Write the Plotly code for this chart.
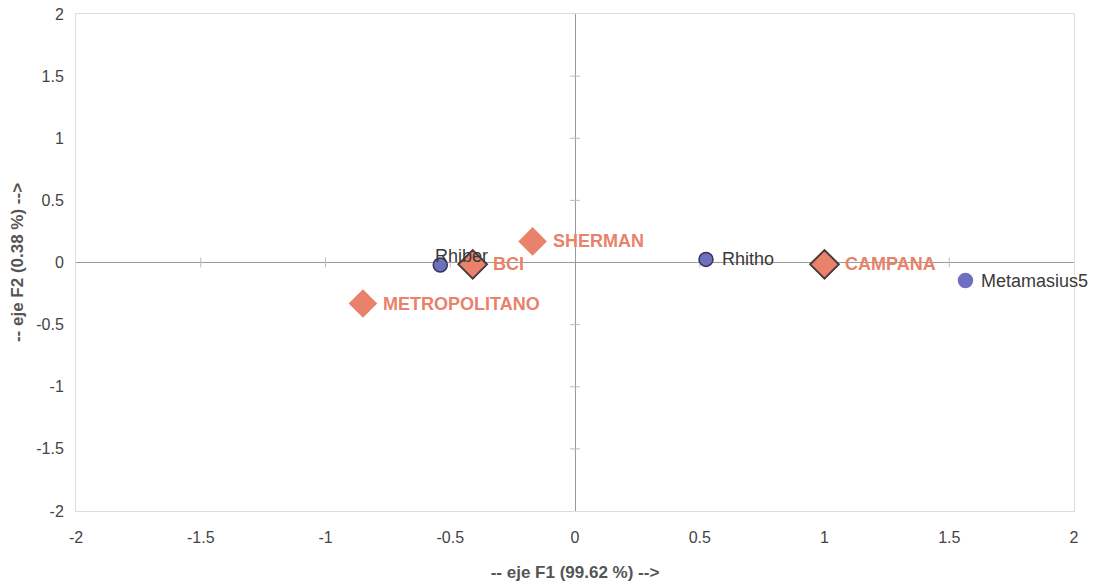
import plotly.graph_objects as go

species_names = ["Rhiber", "Rhitho", "Metamasius5"]
species_f1 = [-0.54, 0.525, 1.565]
species_f2 = [-0.02, 0.025, -0.145]

site_names = ["BCI", "SHERMAN", "METROPOLITANO", "CAMPANA"]
site_f1 = [-0.41, -0.17, -0.85, 1.0]
site_f2 = [-0.015, 0.17, -0.33, -0.015]
site_outlined = [True, False, False, True]

tick_vals = [-2, -1.5, -1, -0.5, 0, 0.5, 1, 1.5, 2]
tick_text = ["-2", "-1.5", "-1", "-0.5", "0", "0.5", "1", "1.5", "2"]

axis_color = "#9a9a9a"
orange = "#E8826A"
blue = "#6F6FBF"
font_fam = "Liberation Sans, Arial"

fig = go.Figure()

inner_ticks = [t for t in tick_vals if t not in (0, -2, 2)]
# small tick marks on the zero axes
fig.add_trace(go.Scatter(
    x=inner_ticks, y=[0] * len(inner_ticks),
    mode="markers", marker=dict(symbol="line-ns-open", size=7, color="#bbbbbb",
                                line=dict(color="#bbbbbb", width=1)),
    hoverinfo="skip", showlegend=False))
fig.add_trace(go.Scatter(
    x=[0] * len(inner_ticks), y=inner_ticks,
    mode="markers", marker=dict(symbol="line-ew-open", size=7, color="#bbbbbb",
                                line=dict(color="#bbbbbb", width=1)),
    hoverinfo="skip", showlegend=False))

# species (blue circles)
sp_outline = ["#333355", "#333355", blue]
fig.add_trace(go.Scatter(
    x=species_f1, y=species_f2, mode="markers",
    marker=dict(symbol="circle", size=14, color=blue,
                line=dict(color=sp_outline, width=1.5)),
    cliponaxis=False, showlegend=False))
for name, x, y in zip(species_names, species_f1, species_f2):
    if name == "Rhiber":
        fig.add_annotation(x=x, y=y, text=name, showarrow=False, xanchor="left",
                           yanchor="middle", xshift=-7, yshift=9,
                           font=dict(family=font_fam, size=18, color="#3a3a3a"))
    else:
        fig.add_annotation(x=x, y=y, text=name, showarrow=False, xanchor="left",
                           yanchor="middle", xshift=14, yshift=0,
                           font=dict(family=font_fam, size=18, color="#3a3a3a"))

# sites (orange diamonds)
fig.add_trace(go.Scatter(
    x=site_f1, y=site_f2, mode="markers",
    marker=dict(symbol="diamond", size=22, color=orange,
                line=dict(color=["#4a3a3a" if o else orange for o in site_outlined],
                          width=[2 if o else 0 for o in site_outlined])),
    cliponaxis=False, showlegend=False))
for name, x, y in zip(site_names, site_f1, site_f2):
    fig.add_annotation(x=x, y=y, text="<b>" + name + "</b>", showarrow=False,
                       xanchor="left", yanchor="middle", xshift=18, yshift=0,
                       font=dict(family=font_fam, size=18, color=orange))

common_axis = dict(
    range=[-2, 2], tickvals=tick_vals, ticktext=tick_text,
    showgrid=False, zeroline=True, zerolinecolor=axis_color, zerolinewidth=1,
    showline=True, linecolor="#dddddd", linewidth=1, mirror=True,
    ticks="outside", tickcolor="rgba(0,0,0,0)", automargin=False,
    tickfont=dict(family=font_fam, size=16, color="#444444"),
)

fig.update_layout(
    width=1094, height=586,
    margin=dict(l=76, r=20, t=14, b=75),
    paper_bgcolor="white", plot_bgcolor="white",
    xaxis=dict(**common_axis, ticklen=12,
               title=dict(text="<b>-- eje F1 (99.62 %) --></b>",
                          font=dict(family=font_fam, size=17, color="#555555"),
                          standoff=20)),
    yaxis=dict(**common_axis, ticklen=8,
               title=dict(text="<b>-- eje F2 (0.38 %) --></b>",
                          font=dict(family=font_fam, size=17, color="#555555"),
                          standoff=8)),
)

fig.write_html("out.html")
